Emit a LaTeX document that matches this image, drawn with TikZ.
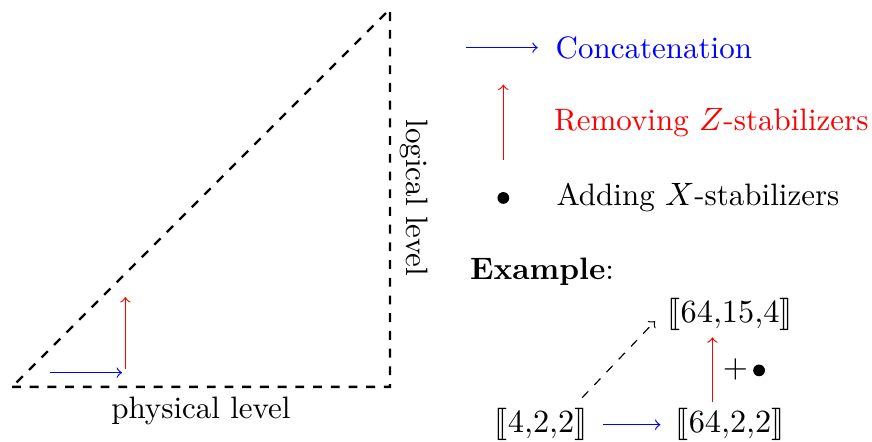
\documentclass[tikz,border=0pt]{standalone}
\usepackage{stmaryrd}
\usetikzlibrary{positioning}

\begin{document}
\begin{tikzpicture}[
        every node/.style={font=\fontsize{10.5}{12.6}\selectfont},
        concat/.style={->, blue},
        remz/.style={->, red},
        edge/.style={thick, dashed},
        addx/.style={circle, fill, inner sep=0pt, minimum size=0.14cm},
        code/.style={inner sep=2pt}
    ]
    \useasboundingbox (-0.143,-0.655) rectangle (10.24,4.607);

    % triangle
    \coordinate (O) at (0,0);
    \coordinate (P) at (4.5,0);
    \coordinate (L) at (4.5,4.5);
    \draw[edge] (O) -- (P) -- (L) -- cycle;
    \node[below] (phys) at (2.25,0) {physical level};
    \node[rotate=-90, anchor=south] (logi) at (4.5,2.25) {logical level};

    \coordinate (c0) at (0.45,0.17);
    \coordinate (c1) at (1.31,0.17);
    \coordinate (r0) at (1.35,0.21);
    \coordinate (r1) at (1.35,1.07);
    \draw[concat] (c0) -- (c1);
    \draw[remz] (r0) -- (r1);

    % legend
    \coordinate (k0) at (5.40,4.04);
    \coordinate (k1) at (6.26,4.04);
    \draw[concat] (k0) -- (k1);
    \node[blue, right] (kc) at (6.35,4.04) {Concatenation};

    \coordinate (z0) at (5.85,2.70);
    \coordinate (z1) at (5.85,3.60);
    \draw[remz] (z0) -- (z1);
    \node[red, right] (kz) at (6.33,3.15) {Removing $Z$-stabilizers};

    \node[addx] (kx) at (5.85,2.25) {};
    \node[right] (kxl) at (6.36,2.26) {Adding $X$-stabilizers};

    \node[right] (ex) at (5.33,1.37) {\textbf{Example}:};

    % example
    \node[code] (a) at (6.30,-0.45) {$\llbracket 4{,}2{,}2\rrbracket$};
    \node[code] (b) at (8.55,-0.45) {$\llbracket 64{,}2{,}2\rrbracket$};
    \node[code] (c) at (8.55,0.86) {$\llbracket 64{,}15{,}4\rrbracket$};

    \draw[concat, shorten <=3pt, shorten >=3pt] (a) -- (b);
    \draw[remz] ([xshift=-0.21cm]b.north) -- ([xshift=-0.21cm]c.south)
        node[midway, right, black] {$+$\,\tikz[baseline=-2.5pt]\fill (0,0) circle (0.07);};
    \draw[->, dashed, shorten <=2pt, shorten >=3pt] ([xshift=0.44cm]a.north) -- (c.west);

\end{tikzpicture}
\end{document}
